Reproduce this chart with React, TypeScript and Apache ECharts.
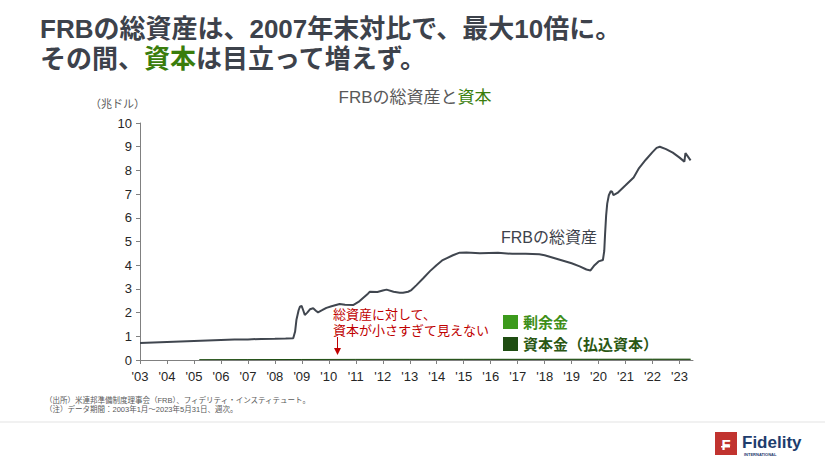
import React, { useEffect, useRef } from "react";
import * as echarts from "echarts";

// FRB total assets (trillion USD), weekly data approximated at key points
const assetYears = [
  2003.0, 2003.5, 2004.0, 2004.5, 2005.0, 2005.5, 2006.0, 2006.5, 2007.0, 2007.5,
  2008.0, 2008.4, 2008.68, 2008.75, 2008.8, 2008.88, 2008.93, 2008.99, 2009.05, 2009.11,
  2009.2, 2009.3, 2009.42, 2009.52, 2009.6, 2009.75, 2009.91, 2010.1, 2010.4, 2010.6,
  2010.9, 2011.1, 2011.3, 2011.45, 2011.52, 2011.8, 2012.0, 2012.14, 2012.4, 2012.63,
  2012.75, 2012.94, 2013.06, 2013.25, 2013.5, 2013.75, 2013.99, 2014.2, 2014.36, 2014.6,
  2014.85, 2015.1, 2015.6, 2016.27, 2016.8, 2017.3, 2017.8, 2018.0, 2018.5, 2019.0,
  2019.3, 2019.55, 2019.7, 2019.85, 2020.0, 2020.16, 2020.21, 2020.24, 2020.28, 2020.32,
  2020.38, 2020.45, 2020.5, 2020.55, 2020.7, 2020.99, 2021.3, 2021.5, 2021.75, 2021.99,
  2022.15, 2022.27, 2022.5, 2022.75, 2022.99, 2023.18, 2023.22, 2023.3, 2023.41,
];
const assetValues = [
  0.72, 0.74, 0.76, 0.78, 0.8, 0.82, 0.84, 0.86, 0.87, 0.89,
  0.9, 0.91, 0.92, 1.2, 1.7, 2.1, 2.25, 2.28, 2.1, 1.9,
  2.0, 2.14, 2.18, 2.08, 2.01, 2.1, 2.2, 2.27, 2.36, 2.33,
  2.32, 2.45, 2.65, 2.8, 2.88, 2.87, 2.93, 2.97, 2.88, 2.84,
  2.84, 2.88, 2.95, 3.16, 3.45, 3.75, 4.0, 4.2, 4.29, 4.42,
  4.53, 4.54, 4.5, 4.53, 4.48, 4.48, 4.46, 4.42, 4.25, 4.08,
  3.95, 3.82, 3.78, 4.0, 4.16, 4.22, 4.6, 5.3, 6.1, 6.6,
  6.95, 7.12, 7.1, 6.96, 7.05, 7.36, 7.7, 8.1, 8.45, 8.76,
  8.95, 9.0, 8.9, 8.75, 8.55, 8.37, 8.73, 8.6, 8.42,
];

// FRB capital (trillion USD)
const capitalYears = [2005.2, 2007.0, 2009.0, 2011.0, 2013.0, 2015.0, 2016.0, 2018.0, 2020.0, 2022.0, 2023.41];
const paidInCapital = [0.014, 0.016, 0.022, 0.026, 0.028, 0.029, 0.030, 0.031, 0.033, 0.035, 0.036];
const surplus = [0.014, 0.016, 0.022, 0.026, 0.028, 0.029, 0.010, 0.007, 0.007, 0.007, 0.007];

const yearTicks = [
  2003, 2004, 2005, 2006, 2007, 2008, 2009, 2010, 2011, 2012, 2013,
  2014, 2015, 2016, 2017, 2018, 2019, 2020, 2021, 2022, 2023,
];

const DARK = "#3d424b";
const GREEN = "#3a7d0c";
const RED = "#c00000";
const GRAYTXT = "#595959";
const JP = "'Liberation Sans', 'Noto Sans CJK JP', sans-serif";

export default function App() {
  const ref = useRef<HTMLDivElement>(null);
  useEffect(() => {
    if (!ref.current) return;
    const chart = echarts.init(ref.current, null, { renderer: "svg" });
    const assetData = assetYears.map((y, i) => [y, assetValues[i]]);
    const capData = capitalYears.map((y, i) => [y, paidInCapital[i]]);
    const surData = capitalYears.map((y, i) => [y, surplus[i]]);

    chart.setOption({
      animation: false,
      backgroundColor: "#ffffff",
      textStyle: { fontFamily: JP },
      grid: { left: 140, right: 132, top: 123, bottom: 104 },
      xAxis: {
        type: "value",
        min: 2003,
        max: 2023.5,
        splitLine: { show: false },
        axisLine: { show: true, onZero: false, lineStyle: { color: "#808080", width: 1 } },
        axisTick: { show: true, length: 4, customValues: yearTicks, lineStyle: { color: "#808080" } },
        axisLabel: {
          customValues: yearTicks,
          margin: 10,
          color: "#262626",
          fontSize: 13,
          fontFamily: JP,
          formatter: (v: number) => "'" + String(Math.round(v)).slice(2),
        },
      },
      yAxis: {
        type: "value",
        min: 0,
        max: 10,
        interval: 1,
        splitLine: { show: false },
        axisLine: { show: true, lineStyle: { color: "#808080", width: 1 } },
        axisTick: { show: true, length: 4, lineStyle: { color: "#808080" } },
        axisLabel: { margin: 8, color: "#262626", fontSize: 13, fontFamily: JP },
      },
      series: [
        {
          name: "資本金（払込資本）",
          type: "line",
          stack: "cap",
          data: capData,
          showSymbol: false,
          lineStyle: { width: 1, color: "#1f4d12" },
          areaStyle: { color: "#1f4d12", opacity: 1 },
          z: 3,
        },
        {
          name: "剰余金",
          type: "line",
          stack: "cap",
          data: surData,
          showSymbol: false,
          lineStyle: { width: 1.2, color: "#4a8f25" },
          areaStyle: { color: "#3c9a1c", opacity: 1 },
          z: 3,
        },
        {
          name: "FRBの総資産",
          type: "line",
          data: assetData,
          showSymbol: false,
          lineStyle: { width: 2, color: "#40464f" },
          z: 4,
        },
      ],
      graphic: [
        {
          type: "text",
          left: 40,
          top: 16,
          style: { text: "FRBの総資産は、2007年末対比で、最大10倍に。", fill: DARK, font: `bold 26px ${JP}` },
        },
        {
          type: "text",
          left: 40,
          top: 46,
          style: {
            text: "その間、{g|資本}は目立って増えず。",
            fill: DARK,
            font: `bold 26px ${JP}`,
            rich: { g: { fill: GREEN, font: `bold 26px ${JP}` } },
          },
        },
        {
          type: "text",
          x: 415,
          y: 97,
          style: {
            text: "FRBの総資産と{g|資本}",
            fill: GRAYTXT,
            font: `17px ${JP}`,
            align: "center",
            verticalAlign: "middle",
            rich: { g: { fill: GREEN, font: `17px ${JP}` } },
          },
        },
        {
          type: "text",
          x: 90,
          y: 104,
          style: { text: "（兆ドル）", fill: GRAYTXT, font: `11px ${JP}`, verticalAlign: "middle" },
        },
        {
          type: "text",
          x: 501,
          y: 237,
          style: { text: "FRBの総資産", fill: DARK, font: `16px ${JP}`, verticalAlign: "middle" },
        },
        {
          type: "text",
          x: 333,
          y: 314,
          style: { text: "総資産に対して、", fill: RED, font: `13px ${JP}`, verticalAlign: "middle" },
        },
        {
          type: "text",
          x: 333,
          y: 330,
          style: { text: "資本が小さすぎて見えない", fill: RED, font: `13px ${JP}`, verticalAlign: "middle" },
        },
        {
          type: "line",
          shape: { x1: 337.5, y1: 337, x2: 337.5, y2: 349 },
          style: { stroke: RED, lineWidth: 1 },
        },
        {
          type: "polygon",
          shape: { points: [[334, 348], [341, 348], [337.5, 355]] },
          style: { fill: RED },
        },
        {
          type: "rect",
          shape: { x: 503, y: 315, width: 15, height: 14 },
          style: { fill: "#3c9a1c" },
        },
        {
          type: "text",
          x: 523,
          y: 322,
          style: { text: "剰余金", fill: "#3f8f1a", font: `bold 15px ${JP}`, verticalAlign: "middle" },
        },
        {
          type: "rect",
          shape: { x: 503, y: 337, width: 15, height: 14 },
          style: { fill: "#1f4d12" },
        },
        {
          type: "text",
          x: 523,
          y: 344,
          style: { text: "資本金（払込資本）", fill: "#2b5714", font: `bold 15px ${JP}`, verticalAlign: "middle" },
        },
        {
          type: "text",
          x: 45,
          y: 400,
          style: {
            text: "（出所）米連邦準備制度理事会（FRB）、フィデリティ・インスティテュート。",
            fill: GRAYTXT,
            font: `7.5px ${JP}`,
            verticalAlign: "middle",
          },
        },
        {
          type: "text",
          x: 45,
          y: 409,
          style: {
            text: "（注）データ期間：2003年1月～2023年5月31日、週次。",
            fill: GRAYTXT,
            font: `7.5px ${JP}`,
            verticalAlign: "middle",
          },
        },
        {
          type: "line",
          shape: { x1: 0, y1: 422, x2: 825, y2: 422 },
          style: { stroke: "#e3e3e3", lineWidth: 1 },
        },
        {
          type: "rect",
          shape: { x: 715, y: 432, width: 22, height: 23 },
          style: { fill: "#c1332f" },
        },
        {
          type: "text",
          x: 726,
          y: 444,
          style: { text: "F", fill: "#ffffff", font: `bold 15px ${JP}`, align: "center", verticalAlign: "middle" },
        },
        {
          type: "rect",
          shape: { x: 721, y: 446, width: 9, height: 1.5 },
          style: { fill: "#ffffff" },
        },
        {
          type: "text",
          x: 742,
          y: 442,
          style: { text: "Fidelity", fill: "#1e3d6d", font: `bold 17px ${JP}`, verticalAlign: "middle" },
        },
        {
          type: "text",
          x: 744,
          y: 454,
          style: { text: "INTERNATIONAL", fill: "#1e3d6d", font: `bold 4px ${JP}`, verticalAlign: "middle" },
        },
      ],
    });
    return () => chart.dispose();
  }, []);
  return (
    <div
      ref={ref}
      style={{ position: "fixed", left: 0, top: 0, width: 825, height: 464, background: "#fff" }}
    />
  );
}
